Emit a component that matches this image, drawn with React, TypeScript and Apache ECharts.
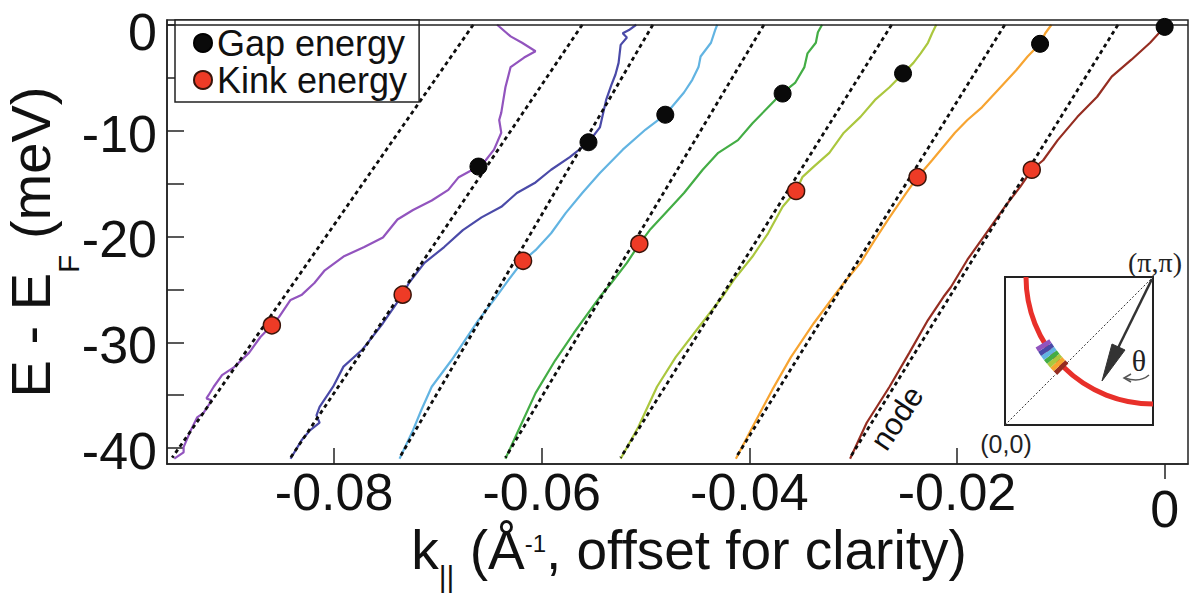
import React, { useEffect, useRef } from "react";
import * as echarts from "echarts";

const FONT = "'Liberation Sans', Arial, Helvetica, sans-serif";
const SERIF = "'Liberation Serif', 'DejaVu Serif', serif";

// axis ranges and tick values
const kRange = [-0.0961, 0.00225];
const eRange = [-41.5, 0.45];
const kTicks = [-0.08, -0.06, -0.04, -0.02];
const kZeroTick = [0];
const eTicks = [-40, -35, -30, -25, -20, -15, -10, -5, 0];
const eLabels = [-40, -30, -20, -10, 0];

// dispersion curves, [k (1/Å), E - EF (meV)]
const violetCurve = [
  [-0.0643, 0], [-0.063, -1.1], [-0.0619, -1.7], [-0.0606, -2.5], [-0.0617, -3.1], [-0.063, -4.0],
  [-0.0635, -5.9], [-0.0637, -7.1], [-0.0639, -8.3], [-0.0641, -9.0], [-0.0639, -10.2], [-0.0646, -11.8],
  [-0.0654, -12.8], [-0.0661, -13.4], [-0.068, -14.4], [-0.069, -15.6], [-0.0706, -16.6], [-0.0724, -17.5],
  [-0.0739, -18.4], [-0.0753, -20.1], [-0.0771, -21.0], [-0.0791, -21.9], [-0.0809, -23.2], [-0.0819, -24.4],
  [-0.0831, -25.5], [-0.0842, -26.0], [-0.0853, -27.6], [-0.086, -28.4], [-0.0871, -29.5], [-0.0882, -31.0],
  [-0.0897, -32.4], [-0.0908, -33.1], [-0.0916, -34.2], [-0.0921, -35.0], [-0.0923, -35.3], [-0.0918, -35.5],
  [-0.0926, -36.7], [-0.0932, -37.1], [-0.0938, -38.3], [-0.0945, -39.9], [-0.0945, -40.4], [-0.0954, -41.0],
];
const indigoCurve = [
  [-0.0509, 0], [-0.0516, -0.5], [-0.0522, -0.8], [-0.0518, -1.2], [-0.0524, -1.9], [-0.0526, -3.6],
  [-0.0529, -4.7], [-0.0533, -5.7], [-0.0538, -7.1], [-0.0544, -9.7], [-0.0555, -11.1], [-0.0573, -12.5],
  [-0.0591, -13.7], [-0.0606, -14.9], [-0.0624, -15.9], [-0.0639, -17.2], [-0.0658, -18.2], [-0.0676, -19.4],
  [-0.0694, -21.0], [-0.0713, -22.5], [-0.0728, -24.4], [-0.0734, -25.5], [-0.0753, -28.2], [-0.0768, -30.1],
  [-0.0773, -30.7], [-0.0791, -32.3], [-0.0801, -34.2], [-0.0814, -36.1], [-0.0817, -36.9], [-0.0814, -37.6],
  [-0.0823, -38.3], [-0.0831, -39.2], [-0.0842, -41.0],
];
const skyCurve = [
  [-0.0431, 0], [-0.0433, -0.5], [-0.0437, -1.7], [-0.0447, -3.0], [-0.0449, -4.0], [-0.0455, -5.2],
  [-0.0463, -6.4], [-0.0481, -8.5], [-0.05, -9.9], [-0.0522, -11.8], [-0.0544, -14.0], [-0.0561, -15.9],
  [-0.0577, -17.8], [-0.0591, -19.7], [-0.0606, -21.3], [-0.0618, -22.3], [-0.0632, -24.1], [-0.0646, -26.0],
  [-0.0661, -27.9], [-0.0676, -30.1], [-0.0687, -31.7], [-0.0706, -34.2], [-0.0716, -36.4], [-0.0724, -38.3],
  [-0.0737, -41.0],
];
const greenCurve = [
  [-0.033, 0], [-0.0334, -0.7], [-0.0336, -1.7], [-0.0344, -2.7], [-0.0347, -4.0], [-0.0356, -5.5],
  [-0.0369, -6.5], [-0.0382, -7.8], [-0.0397, -9.3], [-0.0411, -10.9], [-0.043, -12.1], [-0.0445, -13.7],
  [-0.0463, -15.9], [-0.0481, -17.8], [-0.0496, -19.4], [-0.0506, -20.7], [-0.0518, -22.5], [-0.0533, -24.4],
  [-0.0544, -25.7], [-0.0569, -29.1], [-0.0587, -31.7], [-0.0606, -34.8], [-0.0621, -38.0], [-0.0635, -41.0],
];
const limeCurve = [
  [-0.022, 0], [-0.0224, -0.8], [-0.0228, -1.7], [-0.0235, -2.7], [-0.0242, -3.6], [-0.0252, -4.6],
  [-0.0265, -5.9], [-0.0279, -7.1], [-0.0293, -8.7], [-0.0309, -10.2], [-0.0323, -12.1], [-0.0338, -13.4],
  [-0.0349, -14.4], [-0.0355, -15.7], [-0.0368, -17.2], [-0.0382, -19.7], [-0.0397, -21.9], [-0.0415, -24.1],
  [-0.0426, -25.7], [-0.0449, -28.6], [-0.0471, -31.4], [-0.0489, -34.2], [-0.0507, -38.0], [-0.0524, -41.0],
];
const orangeCurve = [
  [-0.0109, 0], [-0.0115, -0.8], [-0.012, -1.8], [-0.0132, -3.0], [-0.0143, -4.3], [-0.0161, -6.2],
  [-0.0176, -7.8], [-0.019, -9.0], [-0.0202, -10.2], [-0.0213, -11.5], [-0.0224, -12.8], [-0.0238, -14.4],
  [-0.0249, -15.9], [-0.0265, -18.2], [-0.0279, -20.3], [-0.0293, -22.5], [-0.0309, -24.4], [-0.0319, -25.7],
  [-0.0338, -28.2], [-0.036, -31.4], [-0.0378, -34.5], [-0.0397, -38.0], [-0.0413, -41.0],
];
const brownCurve = [
  [0.0, -0.2], [-0.0014, -1.7], [-0.0032, -3.3], [-0.0051, -4.9], [-0.0065, -6.8], [-0.0084, -8.7],
  [-0.0103, -10.9], [-0.0117, -12.8], [-0.0128, -13.7], [-0.0139, -15.3], [-0.0154, -17.2], [-0.0172, -19.7],
  [-0.019, -22.2], [-0.0206, -24.8], [-0.0213, -25.7], [-0.0228, -27.9], [-0.0246, -31.0], [-0.0265, -34.2],
  [-0.0287, -37.6], [-0.0303, -41.0],
];
const curves = [violetCurve, indigoCurve, skyCurve, greenCurve, limeCurve, orangeCurve, brownCurve];
const curveColors = ["#9254BE", "#4A4AA8", "#62B4E2", "#43AD45", "#ABC73E", "#F7A431", "#952D21"];

// linear fits (dashed): k at E = 0 and k at E = -40.9
const fitTopK = [-0.0666, -0.0561, -0.0493, -0.0386, -0.0263, -0.0154, -0.0045];
const fitBottomK = [-0.0956, -0.0842, -0.0737, -0.0635, -0.0524, -0.0413, -0.0303];
const fitEnergies = [0, -40.9];

// markers
const gapK = [-0.0661, -0.0555, -0.0481, -0.0368, -0.0252, -0.012, 0.0];
const gapE = [-13.4, -11.1, -8.5, -6.5, -4.6, -1.8, -0.2];
const kinkK = [-0.086, -0.0734, -0.0618, -0.0506, -0.0355, -0.0238, -0.0128];
const kinkE = [-28.4, -25.5, -22.3, -20.7, -15.7, -14.4, -13.7];

export default function App() {
  const ref = useRef<HTMLDivElement>(null);
  useEffect(() => {
    const chart = echarts.init(ref.current!, null, { renderer: "svg" });

    const curveSeries = curves.map((c, i) => ({
      type: "line",
      data: c,
      showSymbol: false,
      symbol: "none",
      z: 2,
      lineStyle: { color: curveColors[i], width: 2.2 },
      silent: true,
    }));
    const fitSeries = fitTopK.map((t, i) => ({
      type: "line",
      data: [
        [t, fitEnergies[0]],
        [fitBottomK[i], fitEnergies[1]],
      ],
      showSymbol: false,
      symbol: "none",
      z: 3,
      lineStyle: { color: "#0d0d0d", width: 2.8, type: [4, 3.5] },
      silent: true,
      ...(i === 0
        ? {
            markLine: {
              silent: true,
              symbol: "none",
              label: { show: false },
              lineStyle: { color: "#222", width: 1.5, type: "solid" },
              data: [{ yAxis: 0 }],
            },
          }
        : {}),
    }));

    const sectorColors = [...curveColors].reverse();
    const a0 = (134.4 * Math.PI) / 180;
    const a1 = (149 * Math.PI) / 180;
    const step = (a1 - a0) / 7;
    const sectors = sectorColors.map((c, i) => ({
      type: "sector",
      shape: { cx: 1153, cy: 277, r0: 121, r: 137, startAngle: a0 + i * step, endAngle: a0 + (i + 1) * step, clockwise: true },
      style: { fill: c },
      z: 20,
    }));

    const titleColor = "#111";
    const option = {
      animation: false,
      backgroundColor: "#fff",
      grid: {
        left: 167,
        right: 11,
        top: 20,
        bottom: 136,
        containLabel: false,
        outerBoundsMode: "none",
        show: true,
        borderColor: "#222",
        borderWidth: 1.5,
        backgroundColor: "transparent",
      },
      legend: {
        orient: "vertical",
        left: 175,
        top: 20,
        data: ["Gap energy", "Kink energy"],
        icon: "circle",
        itemWidth: 18,
        itemHeight: 18,
        itemGap: 1,
        padding: [5, 12, 4, 18],
        borderColor: "#222",
        borderWidth: 1.5,
        backgroundColor: "#fff",
        textStyle: { fontSize: 36, fontFamily: FONT, color: "#111", lineHeight: 36 },
      },
      xAxis: [
        {
          type: "value",
          min: kRange[0],
          max: kRange[1],
          position: "bottom",
          axisLine: { show: true, onZero: false, lineStyle: { color: "#222", width: 1.5 } },
          axisTick: { show: true, inside: true, length: 16, customValues: kTicks, lineStyle: { color: "#222", width: 1.5 } },
          axisLabel: {
            customValues: kTicks,
            fontSize: 52,
            lineHeight: 52,
            margin: 2,
            color: "#111",
            fontFamily: FONT,
            formatter: (v: number) => String(Number(v.toFixed(2))),
          },
          splitLine: { show: false },
          name: "{m|k}{lo|||}{m| (Å}{hi|-1}{m|, offset for clarity)}",
          nameLocation: "middle",
          nameGap: 58,
          nameMoveOverlap: false,
          nameTextStyle: {
            color: titleColor,
            padding: [0, 0, 0, 23],
            rich: {
              m: { fontSize: 55, lineHeight: 60, verticalAlign: "top", fontFamily: FONT, color: titleColor },
              lo: { fontSize: 30, lineHeight: 30, padding: [39, 0, 0, 0], verticalAlign: "top", fontFamily: FONT, color: titleColor },
              hi: { fontSize: 24, lineHeight: 24, padding: [9, 0, 0, 0], verticalAlign: "top", fontFamily: FONT, color: titleColor },
            },
          },
        },
        {
          type: "value",
          min: kRange[0],
          max: kRange[1],
          position: "bottom",
          axisLine: { show: false, onZero: false },
          axisTick: { show: true, inside: false, length: 15, customValues: kZeroTick, lineStyle: { color: "#222", width: 1.5 } },
          axisLabel: { customValues: kZeroTick, fontSize: 52, lineHeight: 52, margin: 19, color: "#111", fontFamily: FONT },
          splitLine: { show: false },
        },
      ],
      yAxis: {
        type: "value",
        min: eRange[0],
        max: eRange[1],
        axisLine: { show: true, onZero: false, lineStyle: { color: "#222", width: 1.5 } },
        axisTick: { show: true, inside: true, length: 17, customValues: eTicks, lineStyle: { color: "#222", width: 1.5 } },
        axisLabel: {
          customValues: eLabels,
          fontSize: 52,
          lineHeight: 42,
          padding: [6, 0, 0, 0],
          margin: 10,
          color: "#111",
          fontFamily: FONT,
          formatter: (v: number) => (v === 0 ? "{z|0}" : String(v)),
          rich: {
            z: { fontSize: 52, lineHeight: 30, padding: [8, 0, 0, 0], fontFamily: FONT, color: "#111" },
          },
        },
        splitLine: { show: false },
        name: "{m|E - E}{lo|F}{m| (meV)}",
        nameLocation: "middle",
        nameRotate: 90,
        nameGap: 105,
        nameMoveOverlap: false,
        nameTextStyle: {
          color: titleColor,
          rich: {
            m: { fontSize: 56, lineHeight: 60, verticalAlign: "top", fontFamily: FONT, color: titleColor },
            lo: { fontSize: 30, lineHeight: 30, padding: [51, 0, 0, 0], verticalAlign: "top", fontFamily: FONT, color: titleColor },
          },
        },
      },
      series: [
        ...curveSeries,
        ...fitSeries,
        {
          name: "Gap energy",
          type: "scatter",
          data: gapK.map((k, i) => [k, gapE[i]]),
          symbol: "circle",
          symbolSize: 17,
          z: 5,
          itemStyle: { color: "#0a0a0a", borderColor: "#000", borderWidth: 1, opacity: 1 },
        },
        {
          name: "Kink energy",
          type: "scatter",
          data: kinkK.map((k, i) => [k, kinkE[i]]),
          symbol: "circle",
          symbolSize: 17,
          z: 5,
          itemStyle: { color: "#EE3B26", borderColor: "#3a140a", borderWidth: 1.5, opacity: 1 },
        },
      ],
      graphic: {
        elements: [
          {
            type: "text",
            x: 897,
            y: 418,
            rotation: 0.98,
            style: { text: "node", fontSize: 31, fontFamily: FONT, fill: "#111", align: "center", verticalAlign: "middle" },
            z: 20,
          },
          {
            type: "rect",
            shape: { x: 1005, y: 277, width: 148, height: 148 },
            style: { fill: "#fff", stroke: "#222", lineWidth: 2 },
            z: 15,
          },
          {
            type: "line",
            shape: { x1: 1005, y1: 425, x2: 1153, y2: 277 },
            style: { stroke: "#333", lineWidth: 1, lineDash: [2, 2] },
            z: 16,
          },
          {
            type: "arc",
            shape: { cx: 1153, cy: 277, r: 127, startAngle: Math.PI / 2, endAngle: Math.PI, clockwise: true },
            style: { stroke: "#E8302A", lineWidth: 5, fill: null },
            z: 17,
          },
          ...sectors,
          {
            type: "line",
            shape: { x1: 1152, y1: 279, x2: 1118, y2: 348 },
            style: { stroke: "#333", lineWidth: 2.5 },
            z: 18,
          },
          {
            type: "polygon",
            shape: { points: [[1102, 381], [1125, 350], [1112, 344]] },
            style: { fill: "#333", stroke: "#333", lineWidth: 1 },
            z: 18,
          },
          {
            type: "bezierCurve",
            shape: { x1: 1149, y1: 375, cpx1: 1140, cpy1: 383, x2: 1125, y2: 378 },
            style: { stroke: "#555", lineWidth: 1.5, fill: null },
            z: 18,
          },
          {
            type: "polyline",
            shape: { points: [[1131, 374], [1124, 378], [1131, 382]] },
            style: { stroke: "#555", lineWidth: 1.5, fill: null },
            z: 18,
          },
          {
            type: "text",
            x: 1139,
            y: 360,
            style: { text: "θ", fontSize: 30, fontFamily: SERIF, fill: "#222", align: "center", verticalAlign: "middle" },
            z: 19,
          },
          {
            type: "text",
            x: 1155,
            y: 262,
            style: { text: "(π,π)", fontSize: 28, fontFamily: SERIF, fill: "#222", align: "center", verticalAlign: "middle" },
            z: 19,
          },
          {
            type: "text",
            x: 1006,
            y: 444,
            style: { text: "(0,0)", fontSize: 25, fontFamily: FONT, fill: "#222", align: "center", verticalAlign: "middle" },
            z: 19,
          },
        ],
      },
    };
    chart.setOption(option as any);
    return () => chart.dispose();
  }, []);
  return (
    <div
      ref={ref}
      style={{ position: "fixed", left: 0, top: 0, width: 1199, height: 600, background: "#fff" }}
    />
  );
}
